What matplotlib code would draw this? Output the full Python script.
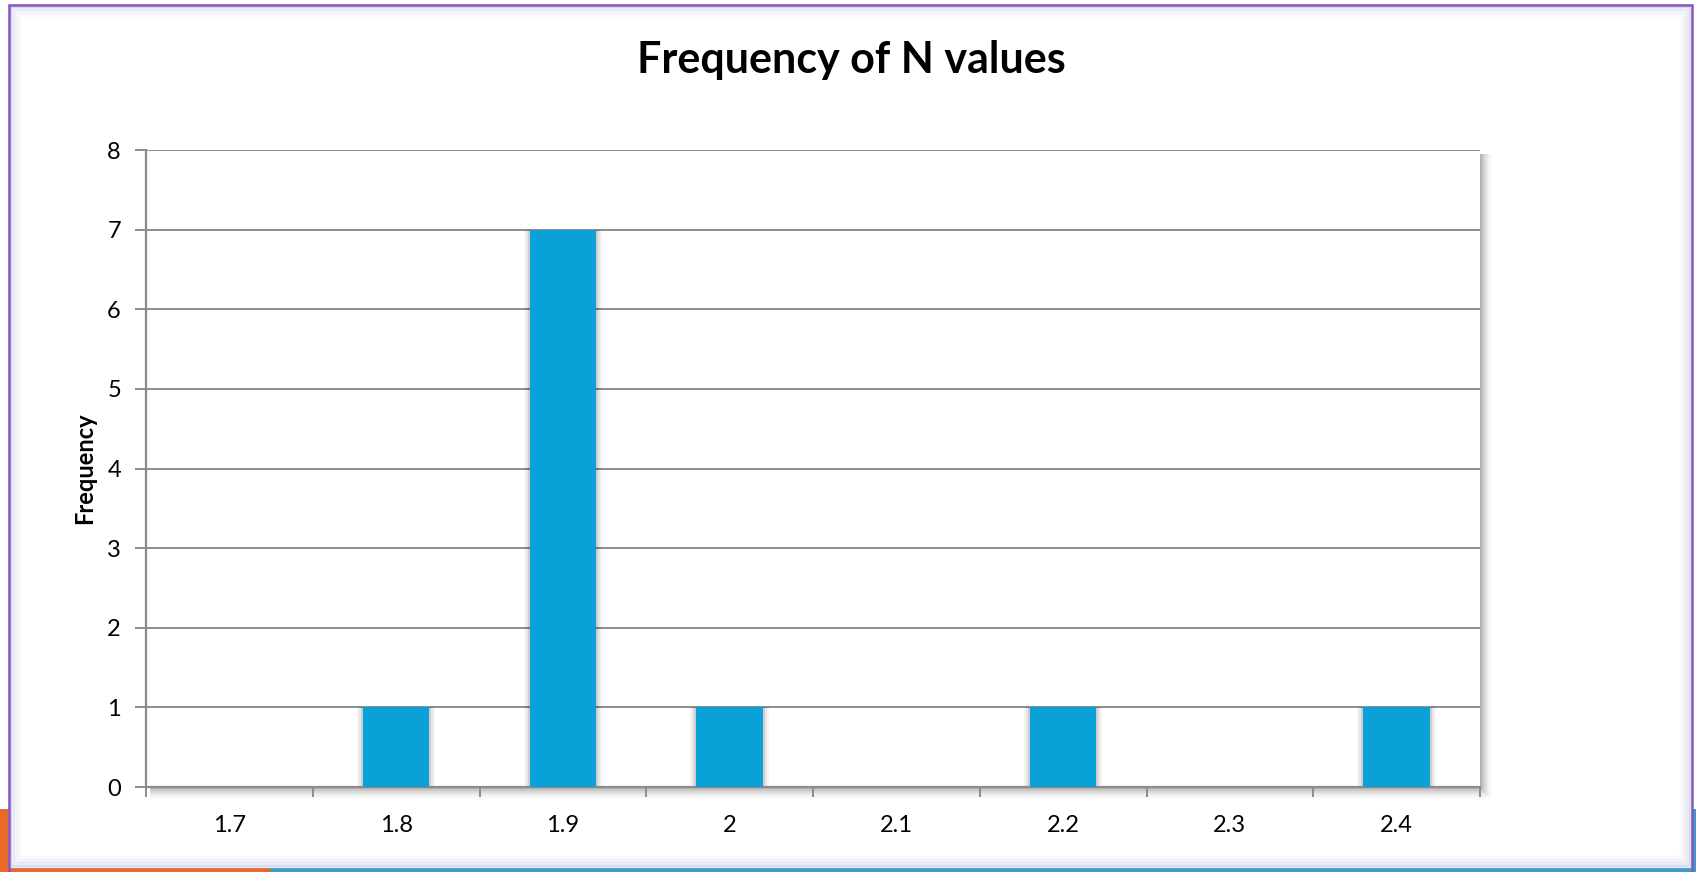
import numpy as np
import matplotlib
matplotlib.use("Agg")
import matplotlib.pyplot as plt
from matplotlib.patches import Rectangle

# histogram of N values
categories = ["1.7", "1.8", "1.9", "2", "2.1", "2.2", "2.3", "2.4"]
frequency = [0, 1, 7, 1, 0, 1, 0, 1]

W, H = 1696, 872
barColor = "#0AA0D8"
gridColor = "#8C8C8C"

plt.rcParams["font.family"] = ["Lato", "DejaVu Sans"]
fig = plt.figure(figsize=(W / 100, H / 100), dpi=100, facecolor="white")


def figRect(x0, y0, x1, y1, **kw):
    # rectangle given in pixel coords, origin at top left
    r = Rectangle((x0 / W, 1 - y1 / H), (x1 - x0) / W, (y1 - y0) / H,
                  transform=fig.transFigure, **kw)
    fig.patches.append(r)
    return r


# slide strip peeking out below the chart frame
figRect(0, 809, 270, H, facecolor="#E8692A", edgecolor="none", zorder=-5)
figRect(270, 809, W, H, facecolor="#3E9BC8", edgecolor="none", zorder=-5)
figRect(9, 5, 1692, 868, facecolor="white", edgecolor="none", zorder=-4)
# soft glow inside the frame border
for i, a in enumerate([0.30, 0.18, 0.10, 0.05]):
    figRect(10 + 3 * i, 6 + 3 * i, 1691 - 3 * i, 867 - 3 * i, facecolor="none",
            edgecolor=(0.62, 0.66, 0.82, a), linewidth=3, zorder=-3)
figRect(9, 5, 1692, 890, facecolor="none", edgecolor="#8A55C0", linewidth=1.8, zorder=-2)

# plot area
left, top, right, bottom = 146, 150, 1480, 787
# drop shadow of plot area
for i, a in enumerate([0.10, 0.08, 0.06, 0.04, 0.03, 0.02]):
    d = 2 + 2 * i
    figRect(left + 4, top + 4, right + d, bottom + d, facecolor=(0, 0, 0, a),
            edgecolor="none", zorder=-1)

ax = fig.add_axes([left / W, 1 - bottom / H, (right - left) / W, (bottom - top) / H])
ax.set_zorder(1)
ax.set_facecolor("white")

x = np.arange(len(categories))
barWidth = 0.4

# soft shadow around each bar
for xi, v in zip(x, frequency):
    if v == 0:
        continue
    for k, a in enumerate([0.10, 0.06, 0.04]):
        pad = 0.012 * (k + 1)
        ax.add_patch(Rectangle((xi - barWidth / 2 - pad, 0), barWidth + 2 * pad, v,
                               facecolor=(0, 0, 0, a), edgecolor="none", zorder=2))

ax.bar(x, frequency, width=barWidth, color=barColor, zorder=3)

ax.set_xlim(-0.5, len(categories) - 0.5)
ax.set_ylim(0, 8)
ax.set_yticks(range(0, 9))
ax.yaxis.grid(True, color=gridColor, linewidth=1.4, zorder=1)
ax.set_axisbelow(True)

# ticks on category boundaries, labels at the centres
ax.set_xticks(np.arange(-0.5, len(categories)), labels=[""] * (len(categories) + 1))
ax.set_xticks(x, labels=categories, minor=True)
ax.tick_params(axis="x", which="major", length=7, width=1.4, color=gridColor, direction="out")
ax.tick_params(axis="x", which="minor", length=0, labelsize=17, pad=20)
ax.tick_params(axis="y", length=8, width=1.4, color=gridColor, labelsize=17, pad=10)

for s in ["top", "right"]:
    ax.spines[s].set_visible(False)
for s in ["left", "bottom"]:
    ax.spines[s].set_color(gridColor)
    ax.spines[s].set_linewidth(1.6)

ax.set_ylabel("Frequency", fontsize=17, fontweight="bold", labelpad=8)
fig.text(851 / W, 1 - 60 / H, "Frequency of N values", fontsize=31, fontweight="bold",
         ha="center", va="center")

fig.savefig("out.png", dpi=100, facecolor="white")
